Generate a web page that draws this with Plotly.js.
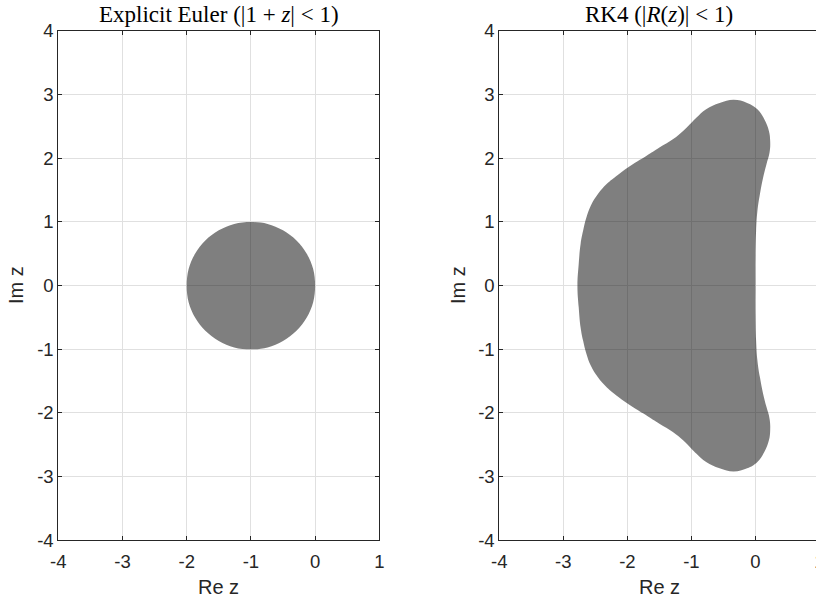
<!DOCTYPE html>
<html><head><meta charset="utf-8">
<script src="https://cdn.plot.ly/plotly-3.0.1.min.js"></script>
<style>html,body{margin:0;padding:0;overflow:hidden;background:#fff}#chart{width:830px;height:603px}</style>
</head><body><div id="chart"></div>
<script>
// Explicit Euler stability region boundary (|1+z|=1)
const eulerRe = [0.00,-0.03,-0.13,-0.29,-0.50,-0.74,-1.00,-1.26,-1.50,-1.71,-1.87,-1.97,-2.00,
                 -1.97,-1.87,-1.71,-1.50,-1.26,-1.00,-0.74,-0.50,-0.29,-0.13,-0.03,0.00];
const eulerIm = [0.00,0.26,0.50,0.71,0.87,0.97,1.00,0.97,0.87,0.71,0.50,0.26,0.00,
                 -0.26,-0.50,-0.71,-0.87,-0.97,-1.00,-0.97,-0.87,-0.71,-0.50,-0.26,0.00];
// RK4 stability region boundary (|R(z)|=1)
const rk4Re = [0.00,0.00,0.01,0.03,0.07,0.12,0.17,0.22,0.23,0.21,0.14,0.03,-0.13,-0.34,-0.56,-0.77,-0.92,-1.00,-1.13,-1.29,-1.50,-1.70,-1.91,-2.15,-2.32,-2.46,-2.57,-2.64,-2.69,-2.73,-2.76,-2.78,
               -2.76,-2.73,-2.69,-2.64,-2.57,-2.46,-2.32,-2.15,-1.91,-1.70,-1.50,-1.29,-1.13,-1.00,-0.92,-0.77,-0.56,-0.34,-0.13,0.03,0.14,0.21,0.23,0.22,0.17,0.12,0.07,0.03,0.01,0.00,0.00];
const rk4Im = [0.00,0.44,0.86,1.17,1.44,1.70,1.90,2.09,2.27,2.43,2.61,2.77,2.87,2.92,2.87,2.77,2.64,2.56,2.43,2.30,2.17,2.04,1.91,1.74,1.60,1.44,1.26,1.07,0.87,0.66,0.34,0.00,
               -0.34,-0.66,-0.87,-1.07,-1.26,-1.44,-1.60,-1.74,-1.91,-2.04,-2.17,-2.30,-2.43,-2.56,-2.64,-2.77,-2.87,-2.92,-2.87,-2.77,-2.61,-2.43,-2.27,-2.09,-1.90,-1.70,-1.44,-1.17,-0.86,-0.44,0.00];
const xTickVals = [-4,-3,-2,-1,0,1];
const xTickText = ['-4','-3','-2','-1','0','1'];
const yTickVals = [-4,-3,-2,-1,0,1,2,3,4];
const yTickText = ['-4','-3','-2','-1','0','1','2','3','4'];
const panelTitles = ['Explicit Euler (|1 + <i>z</i>| &lt; 1)', 'RK4 (|<i>R</i>(<i>z</i>)| &lt; 1)'];
const xLabel = 'Re z';
const yLabel = 'Im z';

const W = 830, H = 603;
const fillColor = 'rgba(0,0,0,0.5)';
const traces = [
  {x: eulerRe, y: eulerIm, xaxis:'x', yaxis:'y', type:'scatter', mode:'lines', fill:'toself',
   fillcolor: fillColor, line:{width:0, shape:'spline', smoothing:1, color:fillColor}, hoverinfo:'skip', showlegend:false},
  {x: rk4Re, y: rk4Im, xaxis:'x2', yaxis:'y2', type:'scatter', mode:'lines', fill:'toself',
   fillcolor: fillColor, line:{width:0, shape:'spline', smoothing:1.2, color:fillColor}, hoverinfo:'skip', showlegend:false}
];
const tickFont = {family:'Liberation Sans, Arial, sans-serif', size:18.5, color:'#262626'};
function xax(domain, anchor){
  return {domain, anchor, range:[-4,1], tickvals:xTickVals, ticktext:xTickText,
    showgrid:true, gridcolor:'#e0e0e0', gridwidth:1, zeroline:false,
    showline:true, linecolor:'#262626', linewidth:1, mirror:'ticks',
    ticks:'inside', ticklen:4, tickcolor:'#262626', tickfont:tickFont, ticklabelstandoff:4, fixedrange:true};
}
function yax(domain, anchor){
  return {domain, anchor, range:[-4,4], tickvals:yTickVals, ticktext:yTickText,
    showgrid:true, gridcolor:'#e0e0e0', gridwidth:1, zeroline:false,
    showline:true, linecolor:'#262626', linewidth:1, mirror:'ticks',
    ticks:'inside', ticklen:4, tickcolor:'#262626', tickfont:tickFont, fixedrange:true};
}
const yDom = [(H-540.3)/H, (H-31)/H];
const lx = [58.3/W, 379.3/W], rx = [499.3/W, 819.5/W];
const titleFont = {family:'Liberation Serif, Times New Roman, serif', size:23, color:'#000'};
const labFont = {family:'Liberation Sans, Arial, sans-serif', size:20, color:'#262626'};
const annotations = [
  {text: panelTitles[0], xref:'paper', yref:'paper', x:(lx[0]+lx[1])/2, y:1-15/H, xanchor:'center', yanchor:'middle', showarrow:false, font:titleFont},
  {text: panelTitles[1], xref:'paper', yref:'paper', x:(rx[0]+rx[1])/2, y:1-15/H, xanchor:'center', yanchor:'middle', showarrow:false, font:titleFont},
  {text: xLabel, xref:'paper', yref:'paper', x:(lx[0]+lx[1])/2, y:1-587/H, xanchor:'center', yanchor:'middle', showarrow:false, font:labFont},
  {text: xLabel, xref:'paper', yref:'paper', x:(rx[0]+rx[1])/2, y:1-587/H, xanchor:'center', yanchor:'middle', showarrow:false, font:labFont},
  {text: yLabel, xref:'paper', yref:'paper', x:16/W, y:1-285/H, xanchor:'center', yanchor:'middle', textangle:-90, showarrow:false, font:labFont},
  {text: yLabel, xref:'paper', yref:'paper', x:458/W, y:1-285/H, xanchor:'center', yanchor:'middle', textangle:-90, showarrow:false, font:labFont}
];
const layout = {
  width:W, height:H, margin:{l:0,r:0,t:0,b:0}, paper_bgcolor:'#fff', plot_bgcolor:'#fff',
  xaxis: xax(lx,'y'), yaxis: yax(yDom,'x'),
  xaxis2: xax(rx,'y2'), yaxis2: yax(yDom,'x2'),
  annotations, showlegend:false
};
Plotly.newPlot('chart', traces, layout, {staticPlot:true, displayModeBar:false});
</script></body></html>
